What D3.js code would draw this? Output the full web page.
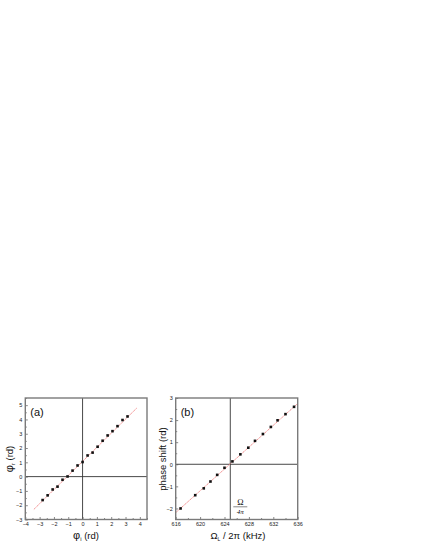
<!DOCTYPE html>
<html lang="en">
<head>
<meta charset="UTF-8"/>
<title>phase transfer</title>
<script src="https://d3js.org/d3.v7.min.js"></script>
<style>
    body { margin: 0; background: #fff; }
    text { font-family: "Liberation Sans", Arial, sans-serif; }
</style>
</head>
<body>
<div id="chart"></div>
<script>
    // panel (a): output phase vs input phase
    var phiIn = [-2.79, -2.44, -2.09, -1.75, -1.40, -1.05, -0.70, -0.35, 0, 0.35, 0.70, 1.05, 1.40, 1.75, 2.09, 2.44, 2.79, 3.14];
    var phiOut = [-1.64, -1.31, -0.90, -0.70, -0.22, 0.01, 0.42, 0.78, 1.02, 1.48, 1.68, 2.09, 2.51, 2.88, 3.18, 3.53, 3.96, 4.21];
    var fitAx = [-3.4, 3.8];
    var fitAy = [-2.29, 4.81];
    var ticksAx = [-4, -3, -2, -1, 0, 1, 2, 3, 4];
    var ticksAy = [-3, -2, -1, 0, 1, 2, 3, 4, 5];

    // panel (b): phase shift vs Larmor frequency
    var freq = [616.8, 619.2, 620.6, 621.7, 622.8, 624.0, 625.3, 626.6, 627.9, 629.0, 630.3, 631.6, 632.7, 634.0, 635.4];
    var shift = [-2.00, -1.40, -1.09, -0.78, -0.48, -0.16, 0.13, 0.45, 0.75, 1.06, 1.37, 1.69, 1.99, 2.27, 2.60];
    var fitBx = [616, 636];
    var fitBy = [-2.19, 2.75];
    var ticksBx = [616, 620, 624, 628, 632, 636];
    var ticksBy = [-2, -1, 0, 1, 2, 3];

    var svg = d3.select("#chart").append("svg").attr("width", 425).attr("height", 550);

    function panel(o) {
        var g = svg.append("g");
        var x = d3.scaleLinear().domain(o.xd).range(o.xr);
        var y = d3.scaleLinear().domain(o.yd).range([519.5, 398]);

        // zero / reference lines
        g.append("line").attr("x1", x(o.vx)).attr("x2", x(o.vx)).attr("y1", 398).attr("y2", 519.5)
            .attr("stroke", "#333").attr("stroke-width", 0.9);
        g.append("line").attr("x1", o.xr[0]).attr("x2", o.xr[1]).attr("y1", y(0)).attr("y2", y(0))
            .attr("stroke", "#333").attr("stroke-width", 0.9);

        // fit line
        g.append("line").attr("x1", x(o.fx[0])).attr("x2", x(o.fx[1]))
            .attr("y1", y(o.fy[0])).attr("y2", y(o.fy[1]))
            .attr("stroke", "#f08080").attr("stroke-width", 0.9).attr("stroke-dasharray", "1.5,0.6");

        // points
        g.selectAll("rect.pt").data(o.px).enter().append("rect").attr("class", "pt")
            .attr("x", function (d) { return x(d) - 1.3; })
            .attr("y", function (d, i) { return y(o.py[i]) - 1.3; })
            .attr("width", 2.6).attr("height", 2.6).attr("fill", "#111");

        // axes with inward ticks
        var xAxis = d3.axisBottom(x).tickValues(o.tx).tickSize(-2.5).tickPadding(3).tickFormat(d3.format("d"));
        var xMinor = d3.axisBottom(x).tickValues(o.mx).tickSize(-1.5).tickFormat("");
        var yAxis = d3.axisLeft(y).tickValues(o.ty).tickSize(-2.5).tickPadding(3).tickFormat(d3.format("d"));
        var yMinor = d3.axisLeft(y).tickValues(o.my).tickSize(-1.5).tickFormat("");

        [[xAxis, "translate(0,519.5)"], [xMinor, "translate(0,519.5)"],
         [yAxis, "translate(" + o.xr[0] + ",0)"], [yMinor, "translate(" + o.xr[0] + ",0)"]].forEach(function (a) {
            var ax = g.append("g").attr("transform", a[1]).call(a[0]);
            ax.select(".domain").remove();
            ax.selectAll("line").attr("stroke", "#555").attr("stroke-width", 0.7);
            ax.selectAll("text").attr("font-size", 5.5).attr("fill", "#222")
                .style("font-family", "'Liberation Sans', Arial, sans-serif");
        });

        // frame
        g.append("rect").attr("x", o.xr[0]).attr("y", 398)
            .attr("width", o.xr[1] - o.xr[0]).attr("height", 121.5)
            .attr("fill", "none").attr("stroke", "#7a7a7a").attr("stroke-width", 1.4);

        // panel tag
        g.append("text").attr("x", o.xr[0] + 5).attr("y", 416).attr("font-size", 11).attr("fill", "#111").text(o.tag);
        return {x: x, y: y, g: g};
    }

    var halves = d3.range(-4, 4.51, 0.5).filter(function (d) { return d % 1 !== 0; });
    var a = panel({
        xd: [-4, 4.5], xr: [25.3, 147], yd: [-3, 5.5], vx: 0,
        fx: fitAx, fy: fitAy, px: phiIn, py: phiOut,
        tx: ticksAx, ty: ticksAy, mx: halves,
        my: d3.range(-2.5, 5.6, 1), tag: "(a)"
    });
    var b = panel({
        xd: [616, 636], xr: [175.7, 297.7], yd: [-2.5, 3], vx: 624.95,
        fx: fitBx, fy: fitBy, px: freq, py: shift,
        tx: ticksBx, ty: ticksBy, mx: [618, 622, 626, 630, 634],
        my: [-1.5, -0.5, 0.5, 1.5, 2.5], tag: "(b)"
    });

    // axis titles
    var ta = svg.append("text").attr("x", 86).attr("y", 538.5).attr("text-anchor", "middle")
        .attr("font-size", 9.5).attr("fill", "#111");
    ta.append("tspan").attr("font-size", 11).text("φ");
    ta.append("tspan").attr("font-size", 6).attr("dy", 2).text("i");
    ta.append("tspan").attr("dy", -2).text("  (rd)");

    var tya = svg.append("text").attr("transform", "translate(13,459) rotate(-90)").attr("text-anchor", "middle")
        .attr("font-size", 9.5).attr("fill", "#111");
    tya.append("tspan").attr("font-size", 11).text("φ");
    tya.append("tspan").attr("font-size", 6).attr("dy", 2).text("r");
    tya.append("tspan").attr("dy", -2).text("  (rd)");

    var tb = svg.append("text").attr("x", 238).attr("y", 538.5).attr("text-anchor", "middle")
        .attr("font-size", 9.5).attr("fill", "#111");
    tb.append("tspan").text("Ω");
    tb.append("tspan").attr("font-size", 5).attr("dy", 2).text("L");
    tb.append("tspan").attr("dy", -2).text(" / 2π  (kHz)");

    svg.append("text").attr("transform", "translate(166,459) rotate(-90)").attr("text-anchor", "middle")
        .attr("font-size", 9.5).attr("fill", "#111").text("phase shift (rd)");

    // Omega / 4 pi marker next to the vertical reference line
    var fx0 = b.x(624.95) + 3;
    svg.append("text").attr("x", fx0 + 7).attr("y", 505).attr("text-anchor", "middle")
        .attr("font-size", 8.5).style("font-family", "'Liberation Serif', serif").attr("fill", "#111").text("Ω");
    svg.append("line").attr("x1", fx0).attr("x2", fx0 + 14).attr("y1", 506.8).attr("y2", 506.8)
        .attr("stroke", "#111").attr("stroke-width", 0.5);
    svg.append("text").attr("x", fx0 + 7).attr("y", 513.5).attr("text-anchor", "middle")
        .attr("font-size", 7).style("font-family", "'Liberation Serif', serif").style("font-style", "italic")
        .attr("fill", "#111").text("4π");
</script>
</body>
</html>
